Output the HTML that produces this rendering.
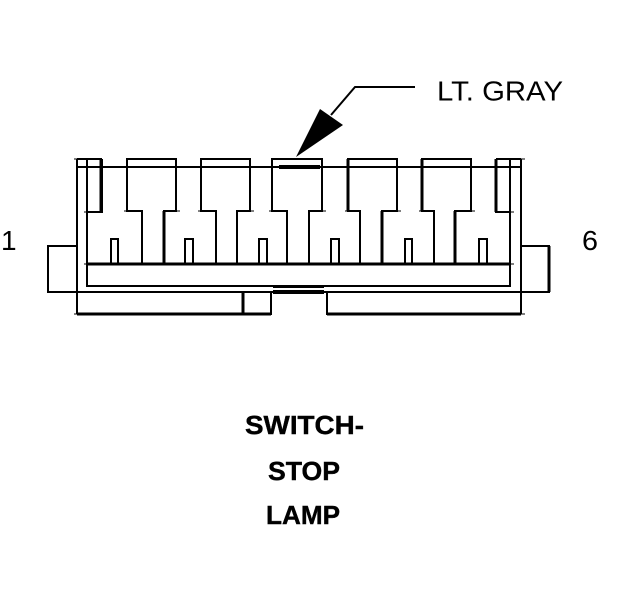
<!DOCTYPE html>
<html>
<head>
<meta charset="utf-8">
<style>
html,body{margin:0;padding:0;background:#fff;}
svg{display:block;}
text{font-family:"Liberation Sans",Arial,sans-serif;fill:#000;}
</style>
</head>
<body>
<svg width="624" height="600" viewBox="0 0 624 600" xmlns="http://www.w3.org/2000/svg">
<rect width="624" height="600" fill="#fff"/>
<g fill="none" stroke="#000" stroke-width="2" shape-rendering="crispEdges">
  <!-- outer body -->
  <path d="M77 159H102M77 159V314M77 292H521M521 159V314M496 159H521"/>
  <path d="M77 167H521"/>
  <!-- inner wall and strip -->
  <path d="M87 159V286H510V159"/>
  <path d="M87 264H510" stroke-width="3"/>
  <!-- side narrow boxes -->
  <path d="M87 212H102V159"/>
  <path d="M101 159V212" stroke-width="3"/>
  <path d="M510 212H496V159"/>
  <path d="M496 159V212" stroke-width="3"/>
  <!-- terminals -->
  <path d="M142 264V211H127V159H176V211H164V264"/>
  <path d="M216 264V211H201V159H250V211H237V264"/>
  <path d="M287 264V211H272V159H322V211H309V264"/>
  <path d="M360 264V211H348V159H397V211H382V264"/>
  <path d="M434 264V211H422V159H471V211H455V264"/>
  <path d="M164 211V264M348 159V211M382 211V264M422 159V211M455 211V264" stroke-width="3"/>
  <!-- small slots -->
  <path d="M111 264V239H118V264"/>
  <path d="M185 264V239H193V264"/>
  <path d="M259 264V239H267V264"/>
  <path d="M331 264V239H339V264"/>
  <path d="M405 264V239H412V264"/>
  <path d="M479 264V239H487V264"/>
  <!-- side tabs -->
  <path d="M77 246H48V292H77"/>
  <path d="M521 246H549V292H521"/>
  <path d="M549 246V292" stroke-width="3"/>
  <!-- bottom blocks -->
  <path d="M77 314H271V292"/>
  <path d="M327 292V314H521"/>
  <path d="M243 292V314" stroke-width="3"/>
  <path d="M77 314H271M327 314H521" stroke-width="3"/>
  <!-- leader -->
  <path d="M415 87H355L331 115" shape-rendering="auto"/>
  <!-- junction ticks -->
  <path stroke-width="1" d="M74 159H81M74 292H81M74 314H81M518 159H525M518 292H525M518 314H525M84 167H91M84 212H91M84 264H91M507 167H514M507 212H514M507 264H514M124 167H131M173 167H180M198 167H205M247 167H254M269 167H276M319 167H326M345 167H352M394 167H401M419 167H426M468 167H475M124 211H131M173 211H180M198 211H205M247 211H254M269 211H276M319 211H326M345 211H352M394 211H401M419 211H426M468 211H475"/>
</g>
<!-- centre thick bars -->
<g fill="#000" shape-rendering="crispEdges">
  <rect x="279" y="165" width="41" height="4"/>
  <rect x="273" y="285" width="51" height="3"/>
  <rect x="273" y="290" width="51" height="4"/>
</g>
<polygon points="296,157 320,109 343,125" fill="#000"/>
<text x="437" y="100.5" font-size="28" textLength="126" lengthAdjust="spacingAndGlyphs">LT. GRAY</text>
<text x="1" y="250" font-size="28">1</text>
<text x="582" y="250" font-size="28" textLength="16" lengthAdjust="spacingAndGlyphs">6</text>
<g font-weight="700" font-size="26" stroke="#000" stroke-width="0.4">
  <text x="245" y="434" textLength="119" lengthAdjust="spacingAndGlyphs" style="font-weight:700">SWITCH-</text>
  <text x="268" y="480" textLength="72" lengthAdjust="spacingAndGlyphs" style="font-weight:700">STOP</text>
  <text x="266" y="524" textLength="74" lengthAdjust="spacingAndGlyphs" style="font-weight:700">LAMP</text>
</g>
</svg>
</body>
</html>
